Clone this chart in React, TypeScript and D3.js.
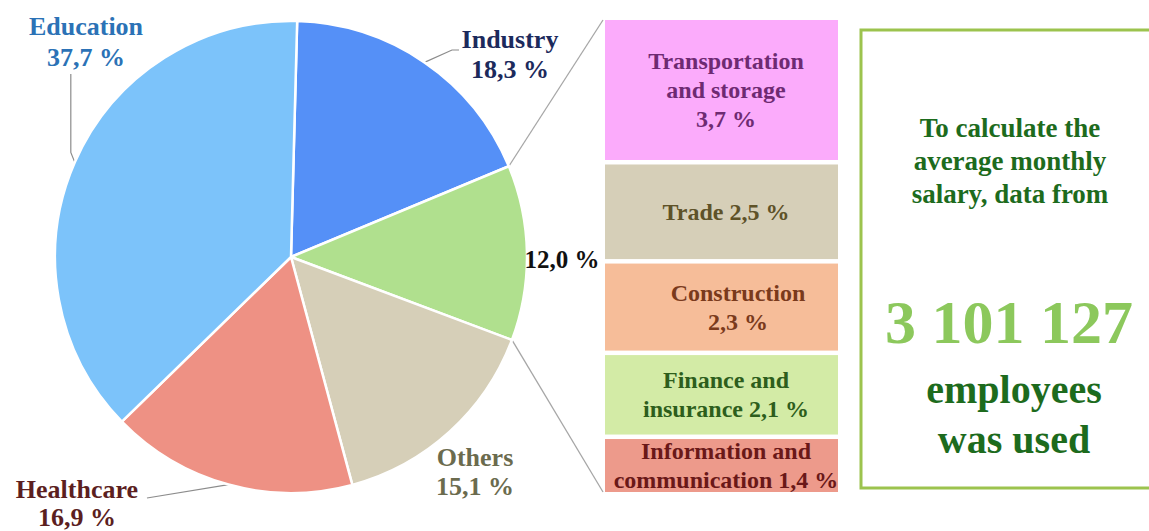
import React from "react";
import * as d3 from "d3";

// Pie data (clockwise from top)
const pieCategories = ["Industry", "Other sectors", "Others", "Healthcare", "Education"];
const pieValues = [18.3, 12.0, 15.1, 16.9, 37.7];
const pieLabels = ["18,3 %", "12,0 %", "15,1 %", "16,9 %", "37,7 %"];
const pieColors = ["#5590f7", "#b0e08e", "#d6cfb8", "#ee9184", "#7cc3fa"];
const pieTextColors = ["#1c2a5c", "#111111", "#6b6b4e", "#5c1f1f", "#2b72b6"];

// Breakdown of the 12,0 % slice
const boxLines = [
  ["Transportation", "and storage", "3,7 %"],
  ["Trade 2,5 %"],
  ["Construction", "2,3 %"],
  ["Finance and", "insurance 2,1 %"],
  ["Information and", "communication 1,4 %"],
];
const boxValues = [3.7, 2.5, 2.3, 2.1, 1.4];
const boxColors = ["#fbabfb", "#d6cfb8", "#f6bd99", "#d3eba6", "#ed9a8b"];
const boxTextColors = ["#6e2a72", "#5e5228", "#7a3a1c", "#2d5e1c", "#6a1818"];

const noteLines = ["To calculate the", "average monthly", "salary, data from"];
const employees = "3 101 127";
const noteTail = ["employees", "was used"];

const FONT = "'Liberation Serif', 'Times New Roman', 'DejaVu Serif', serif";

export default function App() {
  const W = 1149, H = 531;
  const cx = 291, cy = 257, R = 236;
  const start = (1.5 * Math.PI) / 180;

  const pie = d3.pie<number>().sort(null).value((d) => d).startAngle(start).endAngle(start + 2 * Math.PI);
  const arcs = pie(pieValues);
  const arc = d3.arc<d3.PieArcDatum<number>>().innerRadius(0).outerRadius(R);

  const pt = (a: number, r: number = R): [number, number] => [cx + r * Math.sin(a), cy - r * Math.cos(a)];
  const mid = (i: number) => (arcs[i].startAngle + arcs[i].endAngle) / 2;

  // stacked boxes
  const boxX = 605, boxW = 233, boxTop = 20, boxBottom = 492, gap = 4.5;
  const total = d3.sum(boxValues);
  const hScale = d3.scaleLinear().domain([0, total]).range([0, boxBottom - boxTop - gap * (boxValues.length - 1)]);
  let acc = boxTop;
  const boxes = boxValues.map((v, i) => {
    const y0 = acc;
    const h = hScale(v);
    acc += h + gap;
    return { y0, h, i };
  });

  const greenArc = arcs[1];
  const topJoin = pt(greenArc.startAngle);
  const botJoin = pt(greenArc.endAngle);

  const eduPt = pt(mid(4));
  const indPt = pt(mid(0));
  const hcPt = pt(mid(3));

  const ts: React.CSSProperties = { fontFamily: FONT, fontWeight: 700 };

  return (
    <svg width={W} height={H} style={{ position: "absolute", left: 0, top: 0, background: "#fff", fontFamily: FONT }}>
      <rect x={0} y={0} width={W} height={H} fill="#fff" />
      {/* connector lines */}
      <line x1={topJoin[0]} y1={topJoin[1]} x2={boxX - 2} y2={boxTop} stroke="#a6a6a6" strokeWidth={1.3} />
      <line x1={botJoin[0]} y1={botJoin[1]} x2={boxX - 2} y2={boxBottom} stroke="#a6a6a6" strokeWidth={1.3} />
      {/* leader lines */}
      <polyline points={`${eduPt[0]},${eduPt[1]} ${eduPt[0] - 4},${eduPt[1] - 10} ${eduPt[0] - 4},74`} fill="none" stroke="#8c8c8c" strokeWidth={1.2} />
      <polyline points={`${indPt[0]},${indPt[1]} ${452},${50} ${459},${50}`} fill="none" stroke="#8c8c8c" strokeWidth={1.2} />
      <polyline points={`${hcPt[0]},${hcPt[1]} ${147},${498}`} fill="none" stroke="#8c8c8c" strokeWidth={1.2} />
      {/* pie */}
      <g transform={`translate(${cx},${cy})`}>
        {arcs.map((a, i) => (
          <path key={pieCategories[i]} d={arc(a) || ""} fill={pieColors[i]} stroke="#fff" strokeWidth={2.5} strokeLinejoin="round" />
        ))}
      </g>
      {/* pie labels */}
      <g style={{ ...ts, fontSize: 26 }} textAnchor="middle">
        <text x={86} y={35} fill={pieTextColors[4]}>{pieCategories[4]}</text>
        <text x={86} y={66} fill={pieTextColors[4]}>{pieLabels[4]}</text>
        <text x={510} y={48} fill={pieTextColors[0]}>{pieCategories[0]}</text>
        <text x={510} y={78} fill={pieTextColors[0]}>{pieLabels[0]}</text>
        <text x={562} y={268} fill={pieTextColors[1]} style={{ fontSize: 25 }}>{pieLabels[1]}</text>
        <text x={475} y={466} fill={pieTextColors[2]}>{pieCategories[2]}</text>
        <text x={475} y={495} fill={pieTextColors[2]}>{pieLabels[2]}</text>
        <text x={77} y={498} fill={pieTextColors[3]}>{pieCategories[3]}</text>
        <text x={77} y={526} fill={pieTextColors[3]}>{pieLabels[3]}</text>
      </g>
      {/* boxes */}
      {boxes.map((b) => {
        const lines = boxLines[b.i];
        const c = b.y0 + b.h / 2;
        const tx = b.i === 2 ? 738 : 726;
        return (
          <g key={b.i}>
            <rect x={boxX} y={b.y0} width={boxW} height={b.h} fill={boxColors[b.i]} />
            {lines.map((l, j) => (
              <text key={j} x={tx} y={c + 8 + (j - (lines.length - 1) / 2) * 29} textAnchor="middle" style={{ ...ts, fontSize: 24 }} fill={boxTextColors[b.i]}>
                {l}
              </text>
            ))}
          </g>
        );
      })}
      {/* note box */}
      <rect x={861} y={30} width={300} height={458} fill="#fff" stroke="#9cc34e" strokeWidth={3} />
      <g textAnchor="middle">
        {noteLines.map((l, j) => (
          <text key={j} x={1010} y={137 + j * 33} style={{ ...ts, fontSize: 27 }} fill="#1d6b1d">{l}</text>
        ))}
        <text x={1009} y={343} style={{ ...ts, fontSize: 62 }} fill="#8cc85c">{employees}</text>
        {noteTail.map((l, j) => (
          <text key={j} x={1014} y={403 + j * 50} style={{ ...ts, fontSize: 40 }} fill="#1d6b1d">{l}</text>
        ))}
      </g>
    </svg>
  );
}
